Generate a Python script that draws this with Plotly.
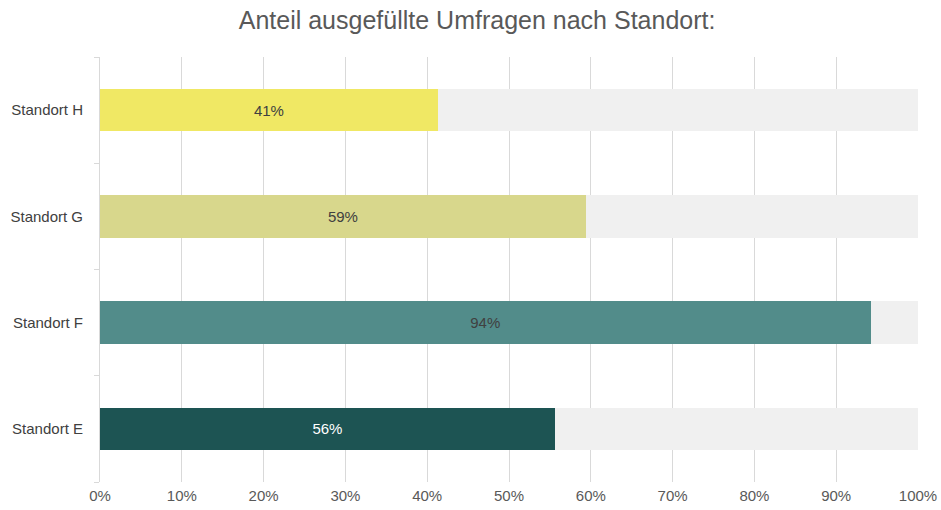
import plotly.graph_objects as go

categories = ["Standort E", "Standort F", "Standort G", "Standort H"]
values = [55.6, 94.2, 59.4, 41.3]
bar_colors = ["#1D5453", "#528C8A", "#D8D78C", "#F0E864"]
label_colors = ["#FFFFFF", "#404040", "#404040", "#404040"]
x_ticks = list(range(0, 101, 10))
x_tick_labels = [f"{t}%" for t in x_ticks]

remainder = [100 - v for v in values]

fig = go.Figure()
fig.add_trace(go.Bar(
    y=categories, x=values, orientation="h",
    marker=dict(color=bar_colors, line=dict(width=0)),
    text=[f"{round(v)}%" for v in values],
    textposition="inside", insidetextanchor="middle",
    textfont=dict(color=label_colors, size=15, family="Liberation Sans, Arial"),
    hoverinfo="skip", showlegend=False,
))
fig.add_trace(go.Bar(
    y=categories, x=remainder, orientation="h",
    marker=dict(color="#F0F0F0", line=dict(width=0)),
    hoverinfo="skip", showlegend=False,
))

fig.update_layout(
    barmode="stack",
    bargap=0.6,
    width=941, height=510,
    paper_bgcolor="white", plot_bgcolor="white",
    margin=dict(l=100, r=23, t=57, b=28, autoexpand=False),
    font=dict(family="Liberation Sans, Arial", color="#595959", size=15),
    title=dict(text="Anteil ausgefüllte Umfragen nach Standort:",
               x=0.507, xanchor="center", yref="container", y=0.96, yanchor="middle",
               font=dict(size=25, color="#595959")),
    xaxis=dict(range=[0, 100], tickvals=x_ticks, ticktext=x_tick_labels,
               showgrid=True, gridcolor="#D9D9D9", gridwidth=1,
               zeroline=False, showline=False, ticks="", automargin=False,
               ticklabeloverflow="allow", ticklabelstandoff=3,
               tickfont=dict(size=15, color="#595959")),
    yaxis=dict(showline=True, linecolor="#D9D9D9", linewidth=1, automargin=False,
               ticks="outside", tickson="boundaries", ticklen=5, tickcolor="#D9D9D9",
               showgrid=False, tickfont=dict(size=15, color="#404040"),
               ticklabelstandoff=13),
)

fig.write_html("out.html", config={"displayModeBar": False},
               post_script="document.body.style.margin='0';document.body.style.overflow='hidden';")
